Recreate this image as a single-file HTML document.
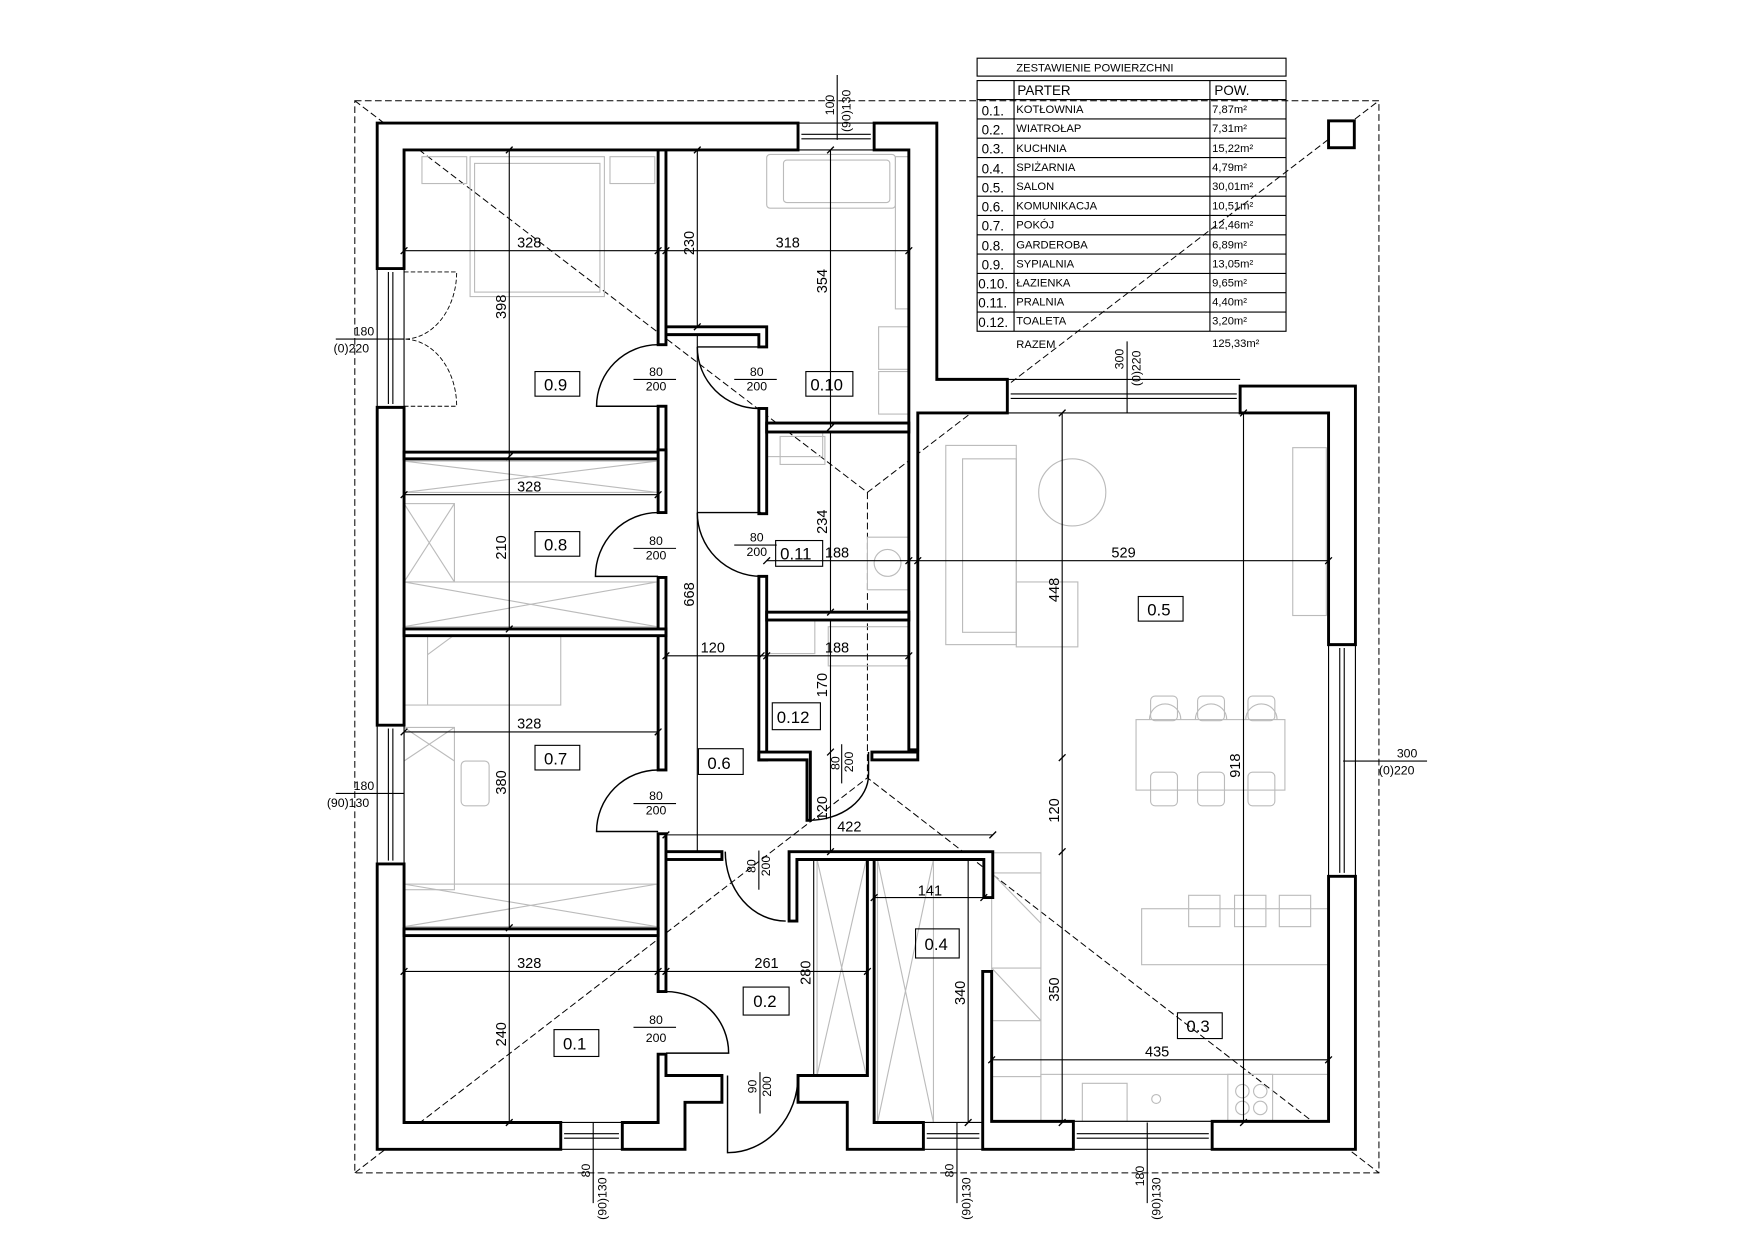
<!DOCTYPE html>
<html><head><meta charset="utf-8"><style>
html,body{margin:0;padding:0;background:#fff;}
svg{display:block;}
text{font-family:"Liberation Sans",sans-serif;fill:#000;}
.w{fill:#fff;stroke:#000;stroke-width:2.6;stroke-linejoin:miter;}
.t{fill:none;stroke:#000;stroke-width:1;}
.g{fill:none;stroke:#bbb;stroke-width:1;}
.d{fill:none;stroke:#000;stroke-width:0.9;stroke-dasharray:6,3;}
.dim{font-size:13px;}
.dl{font-size:11px;}
.tb{font-size:10px;}
.rl{font-size:15px;}
</style></head><body>
<svg width="1755" height="1240" viewBox="0 0 1568 1108" preserveAspectRatio="none" xmlns="http://www.w3.org/2000/svg">
<rect x="0" y="0" width="1568" height="1108" fill="#fff"/>

<!-- roof outline -->
<rect x="317" y="90" width="915" height="958" class="d"/>
<path class="d" d="M317,90 L775,440 L1232,90 M317,1048 L775,695 L1232,1048 M775,440 L775,695"/>

<!-- furniture (gray) -->
<g class="g">
<rect x="377" y="140" width="40" height="24"/><rect x="545" y="140" width="40" height="24"/>
<rect x="420" y="140" width="120" height="125"/><rect x="424" y="146" width="112" height="115"/>
<rect x="685" y="138" width="115" height="48" rx="3"/><rect x="700" y="143" width="95" height="38" rx="3"/>
<rect x="800" y="140" width="12" height="136"/>
<rect x="785" y="292" width="28" height="38"/><rect x="785" y="332" width="28" height="38"/>
<rect x="685" y="386" width="50" height="22"/><rect x="697" y="390" width="40" height="25"/>
<rect x="775" y="480" width="37" height="47"/><circle cx="793" cy="503" r="12"/>
<rect x="685" y="554" width="43" height="30"/><rect x="740" y="560" width="72" height="35"/>
<rect x="361" y="412" width="226" height="28"/><path d="M361,412 L587,440 M361,440 L587,412"/>
<rect x="361" y="450" width="45" height="70"/><path d="M361,450 L406,520 M361,520 L406,450"/>
<rect x="361" y="520" width="226" height="40"/><path d="M361,520 L587,560 M361,560 L587,520"/>
<rect x="361" y="568" width="140" height="62"/><path d="M382,568 L382,630 M382,585 L405,568"/>
<rect x="361" y="650" width="45" height="145"/><path d="M361,650 L406,680 M361,680 L406,650"/>
<rect x="412" y="680" width="25" height="40" rx="4"/>
<rect x="361" y="790" width="226" height="38"/><path d="M361,790 L587,828 M361,828 L587,790"/>
<rect x="845" y="398" width="63" height="178"/><rect x="860" y="410" width="48" height="155"/>
<rect x="908" y="520" width="55" height="58"/>
<circle cx="958" cy="440" r="30"/>
<rect x="1155" y="400" width="30" height="150"/>
<rect x="1015" y="643" width="133" height="63"/>
<path d="M1027,643 a14,14 0 0,1 28,0 M1068,643 a14,14 0 0,1 28,0 M1113,643 a14,14 0 0,1 28,0"/>
<rect x="1028" y="622" width="24" height="22" rx="4"/><rect x="1070" y="622" width="24" height="22" rx="4"/><rect x="1115" y="622" width="24" height="22" rx="4"/>
<rect x="1028" y="690" width="24" height="30" rx="4"/><rect x="1070" y="690" width="24" height="30" rx="4"/><rect x="1115" y="690" width="24" height="30" rx="4"/>
<rect x="1020" y="812" width="167" height="50"/>
<rect x="1062" y="800" width="28" height="28"/><rect x="1103" y="800" width="28" height="28"/><rect x="1143" y="800" width="28" height="28"/>
<rect x="886" y="762" width="44" height="200"/><path d="M886,780 L930,780 M886,865 L930,865 M886,912 L930,912 M886,780 L930,825 M886,865 L930,912"/>
<rect x="930" y="960" width="257" height="42"/>
<rect x="967" y="968" width="40" height="34"/><circle cx="1033" cy="982" r="4"/>
<rect x="1097" y="960" width="40" height="42"/><circle cx="1110" cy="975" r="6"/><circle cx="1126" cy="975" r="6"/><circle cx="1110" cy="990" r="6"/><circle cx="1126" cy="990" r="6"/>
<rect x="730" y="768" width="44" height="193"/><path d="M730,768 L774,961 M774,768 L730,961"/>
<rect x="784" y="768" width="50" height="235"/><path d="M784,768 L834,1003 M834,768 L784,1003"/>
</g>

<!-- walls -->
<g class="w">
<polygon points="337,110 713,110 713,134 361,134 361,240 337,240"/>
<polygon points="337,364 361,364 361,648 337,648"/>
<polygon points="337,772 361,772 361,1003 501,1003 501,1027 337,1027"/>
<polygon points="556,1003 588,1003 588,942 595,942 595,961 645,961 645,985 612,985 612,1027 556,1027"/>
<polygon points="713,961 775,961 775,767 781,767 781,1003 825,1003 825,1027 757,1027 757,985 713,985"/>
<polygon points="878,868 886,868 886,1002 959,1002 959,1027 878,1027"/>
<polygon points="1187,783 1211,783 1211,1027 1083,1027 1083,1002 1187,1002"/>
<polygon points="1108,345 1211,345 1211,576 1187,576 1187,369 1108,369"/>
<polygon points="781,110 837,110 837,339 900,339 900,369 820,369 820,670 812,670 812,134 781,134"/>
<rect x="1187" y="108" width="23" height="24"/>
<!-- interior -->
<rect x="588" y="134" width="7" height="174"/>
<rect x="588" y="363" width="7" height="45"/>
<rect x="361" y="404" width="234" height="6"/>
<rect x="588" y="402" width="7" height="56"/>
<rect x="588" y="516" width="7" height="172"/>
<rect x="361" y="562" width="234" height="6"/>
<rect x="588" y="745" width="7" height="141"/>
<rect x="361" y="830" width="227" height="6"/>
<polygon points="595,292 685,292 685,310 678,310 678,299 595,299"/>
<rect x="678" y="365" width="7" height="94"/>
<rect x="685" y="378" width="127" height="8"/>
<rect x="678" y="515" width="7" height="164"/>
<rect x="685" y="547" width="127" height="7"/>
<polygon points="678,672 724,672 724,733 721,733 721,679 678,679"/>
<rect x="779" y="672" width="41" height="7"/>
<rect x="595" y="761" width="50" height="7"/>
<polygon points="705,761 887,761 887,802 879,802 879,768 712,768 712,823 705,823"/>
</g>

<!-- windows -->
<g class="t">
<path d="M713,110 L781,110 M713,134 L781,134 M716,120 L778,120 M716,124 L778,124"/>
<path d="M900,339 L1108,339 M900,369 L1108,369 M903,352 L1105,352 M903,356 L1105,356"/>
<path d="M337,240 L337,364 M361,240 L361,364 M347,243 L347,361 M351,243 L351,361"/>
<path d="M337,648 L337,772 M361,648 L361,772 M347,651 L347,769 M351,651 L351,769"/>
<path d="M1187,576 L1187,783 M1211,576 L1211,783 M1197,579 L1197,780 M1201,579 L1201,780"/>
<path d="M501,1003 L556,1003 M501,1027 L556,1027 M504,1013 L553,1013 M504,1017 L553,1017"/>
<path d="M825,1003 L878,1003 M825,1027 L878,1027 M828,1013 L875,1013 M828,1017 L875,1017"/>
<path d="M959,1002 L1083,1002 M959,1027 L1083,1027 M962,1013 L1080,1013 M962,1017 L1080,1017"/>
</g>

<!-- doors -->
<g class="t" style="stroke-width:1.3">
<path d="M588,308 A55,55 0 0,0 533,363 L588,363"/>
<path d="M623,310 L678,310 M623,310 A55,55 0 0,0 678,365"/>
<path d="M588,458 A56,57 0 0,0 532,515 L588,515"/>
<path d="M623,458 L680,458 M623,458 A57,57 0 0,0 680,515"/>
<path d="M588,688 A55,55 0 0,0 533,743 L588,743"/>
<path d="M776,672 L776,692 A53,41 0 0,1 723,733"/>
<path d="M648,761 A54,62 0 0,0 702,823"/>
<path d="M595,886 A56,55 0 0,1 651,941 L595,941"/>
<path d="M650,961 L650,1030 A63,69 0 0,0 713,961"/>
</g>
<path class="d" style="stroke-width:0.8;stroke-dasharray:4,2" d="M361,243 L408,243 A47,60 0 0,1 361,303 M361,363 L408,363 A47,60 0 0,0 361,303"/>

<!-- dimension lines -->
<g class="t">
<path d="M361,224 L812,224 M455,134 L455,408 M623,134 L623,292 M742,134 L742,382"/>
<path d="M361,442 L588,442 M455,410 L455,562 M623,300 L623,762 M742,386 L742,547"/>
<path d="M685,501 L1187,501 M595,586 L812,586 M742,554 L742,761"/>
<path d="M361,654 L588,654 M455,568 L455,829 M595,746 L887,746 M781,802 L879,802"/>
<path d="M361,868 L775,868 M455,836 L455,1003 M727,768 L727,961 M865,768 L865,1003"/>
<path d="M949,369 L949,1003 M1111,369 L1111,1003 M886,947 L1187,947"/>
<path d="M748,67 L748,125 M1007,305 L1007,369 M300,303 L361,303 M300,709 L361,709 M1200,680 L1275,680 M530,1003 L530,1075 M855,1003 L855,1075 M1025,1003 L1025,1075"/>
</g>
<g class="t" style="stroke-width:1.2">
<path d="M358,227 l6,-6 M585,227 l6,-6 M592,227 l6,-6 M809,227 l6,-6 M452,137 l6,-6 M452,411 l6,-6 M620,137 l6,-6 M620,295 l6,-6 M739,137 l6,-6 M739,385 l6,-6"/>
<path d="M358,445 l6,-6 M585,445 l6,-6 M452,565 l6,-6 M739,550 l6,-6 M682,504 l6,-6 M809,504 l6,-6 M817,504 l6,-6 M1184,504 l6,-6 M592,589 l6,-6 M677,589 l6,-6 M682,589 l6,-6 M809,589 l6,-6"/>
<path d="M358,657 l6,-6 M585,657 l6,-6 M452,832 l6,-6 M592,749 l6,-6 M884,749 l6,-6 M778,805 l6,-6 M876,805 l6,-6 M739,675 l6,-6 M739,764 l6,-6"/>
<path d="M358,871 l6,-6 M585,871 l6,-6 M592,871 l6,-6 M772,871 l6,-6 M452,1006 l6,-6 M862,1006 l6,-6 M946,372 l6,-6 M946,680 l6,-6 M946,764 l6,-6 M946,1006 l6,-6 M1108,372 l6,-6 M1108,1006 l6,-6 M883,950 l6,-6 M1184,950 l6,-6"/>
</g>

<!-- dimension text -->
<g class="dim">
<text x="462" y="221">328</text><text x="693" y="221">318</text>
<text transform="translate(620,228) rotate(-90)">230</text>
<text transform="translate(739,262) rotate(-90)">354</text>
<text transform="translate(452,285) rotate(-90)">398</text>
<text x="462" y="439">328</text>
<text transform="translate(452,500) rotate(-90)">210</text>
<text transform="translate(620,542) rotate(-90)">668</text>
<text transform="translate(739,477) rotate(-90)">234</text>
<text x="737" y="498">188</text>
<text x="993" y="498">529</text>
<text x="626" y="583">120</text><text x="737" y="583">188</text>
<text transform="translate(739,623) rotate(-90)">170</text>
<text x="462" y="651">328</text>
<text transform="translate(452,710) rotate(-90)">380</text>
<text transform="translate(739,733) rotate(-90)">120</text>
<text x="748" y="743">422</text>
<text x="820" y="800">141</text>
<text x="462" y="865">328</text><text x="674" y="865">261</text>
<text transform="translate(724,880) rotate(-90)">280</text>
<text transform="translate(862,898) rotate(-90)">340</text>
<text transform="translate(452,935) rotate(-90)">240</text>
<text transform="translate(946,538) rotate(-90)">448</text>
<text transform="translate(946,735) rotate(-90)">120</text>
<text transform="translate(946,895) rotate(-90)">350</text>
<text transform="translate(1108,695) rotate(-90)">918</text>
<text x="1023" y="944">435</text>
</g>
<g class="dl">
<text transform="translate(745,103) rotate(-90)">100</text>
<text transform="translate(760,118) rotate(-90)">(90)130</text>
<text transform="translate(1004,330) rotate(-90)">300</text>
<text transform="translate(1019,345) rotate(-90)">(0)220</text>
<text x="316" y="300">180</text><text x="298" y="315">(0)220</text>
<text x="316" y="706">180</text><text x="292" y="721">(90)130</text>
<text x="1248" y="677">300</text><text x="1232" y="692">(0)220</text>
<text transform="translate(527,1052) rotate(-90)">80</text>
<text transform="translate(542,1090) rotate(-90)">(90)130</text>
<text transform="translate(852,1052) rotate(-90)">80</text>
<text transform="translate(867,1090) rotate(-90)">(90)130</text>
<text transform="translate(1022,1060) rotate(-90)">180</text>
<text transform="translate(1037,1090) rotate(-90)">(90)130</text>
</g>

<!-- door labels -->
<g class="dl" style="font-size:11px">
<text x="580" y="336">80</text><path class="t" d="M566,339 L604,339"/><text x="577" y="349">200</text>
<text x="670" y="336">80</text><path class="t" d="M656,339 L694,339"/><text x="667" y="349">200</text>
<text x="580" y="487">80</text><path class="t" d="M566,490 L604,490"/><text x="577" y="500">200</text>
<text x="670" y="484">80</text><path class="t" d="M656,487 L694,487"/><text x="667" y="497">200</text>
<text x="580" y="715">80</text><path class="t" d="M566,718 L604,718"/><text x="577" y="728">200</text>
<text x="580" y="915">80</text><path class="t" d="M566,918 L604,918"/><text x="577" y="931">200</text>
<text transform="translate(675,780) rotate(-90)">80</text><path class="t" d="M678,760 L678,795"/><text transform="translate(688,783) rotate(-90)">200</text>
<text transform="translate(750,688) rotate(-90)">80</text><path class="t" d="M752,665 L752,700"/><text transform="translate(762,690) rotate(-90)">200</text>
<text transform="translate(676,977) rotate(-90)">90</text><path class="t" d="M679,958 L679,995"/><text transform="translate(689,980) rotate(-90)">200</text>
</g>

<!-- room labels -->
<g class="t">
<rect x="478" y="332" width="40" height="22"/><rect x="720" y="332" width="42" height="22"/>
<rect x="478" y="475" width="40" height="22"/><rect x="693" y="483" width="42" height="23"/>
<rect x="1017" y="533" width="40" height="22"/><rect x="690" y="628" width="43" height="24"/>
<rect x="478" y="666" width="40" height="22"/><rect x="624" y="669" width="40" height="23"/>
<rect x="818" y="830" width="39" height="26"/><rect x="664" y="882" width="41" height="25"/>
<rect x="495" y="920" width="40" height="24"/><rect x="1052" y="905" width="40" height="23"/>
</g>
<g class="rl">
<text x="486" y="349">0.9</text><text x="724" y="349">0.10</text>
<text x="486" y="492">0.8</text><text x="697" y="500">0.11</text>
<text x="1025" y="550">0.5</text><text x="694" y="646">0.12</text>
<text x="486" y="683">0.7</text><text x="632" y="687">0.6</text>
<text x="826" y="849">0.4</text><text x="673" y="900">0.2</text>
<text x="503" y="938">0.1</text><text x="1060" y="922">0.3</text>
</g>

<!-- table -->
<g class="t">
<rect x="873" y="52" width="276" height="16"/>
<rect x="873" y="72" width="276" height="224"/>
<path d="M906,72 L906,296 M1081,72 L1081,296"/>
<path d="M873,89 L1149,89 M873,106.3 L1149,106.3 M873,123.5 L1149,123.5 M873,140.8 L1149,140.8 M873,158 L1149,158 M873,175.3 L1149,175.3 M873,192.5 L1149,192.5 M873,209.8 L1149,209.8 M873,227 L1149,227 M873,244.3 L1149,244.3 M873,261.5 L1149,261.5 M873,278.8 L1149,278.8"/>
</g>
<g class="tb">
<text x="908" y="64">ZESTAWIENIE  POWIERZCHNI</text>
<text x="909" y="85" style="font-size:12px">PARTER</text><text x="1085" y="85" style="font-size:12px">POW.</text>
</g>
<g style="font-size:12px">
<text x="877" y="103">0.1.</text><text x="877" y="120">0.2.</text><text x="877" y="137">0.3.</text><text x="877" y="155">0.4.</text><text x="877" y="172">0.5.</text><text x="877" y="189">0.6.</text><text x="877" y="206">0.7.</text><text x="877" y="224">0.8.</text><text x="877" y="241">0.9.</text><text x="874" y="258">0.10.</text><text x="874" y="275">0.11.</text><text x="874" y="292">0.12.</text>
</g>
<g class="tb">
<text x="908" y="101">KOTŁOWNIA</text><text x="908" y="118">WIATROŁAP</text><text x="908" y="136">KUCHNIA</text><text x="908" y="153">SPIŻARNIA</text><text x="908" y="170">SALON</text><text x="908" y="187">KOMUNIKACJA</text><text x="908" y="204">POKÓJ</text><text x="908" y="222">GARDEROBA</text><text x="908" y="239">SYPIALNIA</text><text x="908" y="256">ŁAZIENKA</text><text x="908" y="273">PRALNIA</text><text x="908" y="290">TOALETA</text>
<text x="908" y="311">RAZEM</text>
<text x="1083" y="101">7,87m²</text><text x="1083" y="118">7,31m²</text><text x="1083" y="136">15,22m²</text><text x="1083" y="153">4,79m²</text><text x="1083" y="170">30,01m²</text><text x="1083" y="187">10,51m²</text><text x="1083" y="204">12,46m²</text><text x="1083" y="222">6,89m²</text><text x="1083" y="239">13,05m²</text><text x="1083" y="256">9,65m²</text><text x="1083" y="273">4,40m²</text><text x="1083" y="290">3,20m²</text>
<text x="1083" y="310">125,33m²</text>
</g>
</svg>
</body></html>
